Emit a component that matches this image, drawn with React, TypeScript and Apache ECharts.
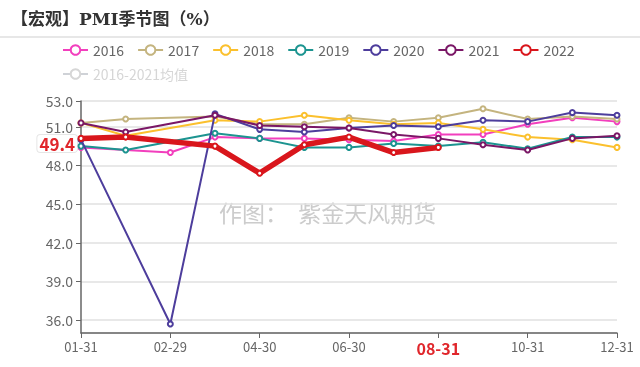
import React, { useEffect, useRef } from "react";
import * as echarts from "echarts";

const categories = ["01-31", "02-28", "02-29", "03-31", "04-30", "05-31", "06-30", "07-31", "08-31", "09-30", "10-31", "11-30", "12-31"];

const years = ["2016", "2017", "2018", "2019", "2020", "2021", "2022"];

const v2016 = [49.4, null, 49.0, 50.2, 50.1, 50.1, 50.0, 49.9, 50.4, 50.4, 51.2, 51.7, 51.4];
const v2017 = [51.3, 51.6, null, 51.8, 51.2, 51.2, 51.7, 51.4, 51.7, 52.4, 51.6, 51.8, 51.6];
const v2018 = [51.3, 50.3, null, 51.5, 51.4, 51.9, 51.5, 51.2, 51.3, 50.8, 50.2, 50.0, 49.4];
const v2019 = [49.5, 49.2, null, 50.5, 50.1, 49.4, 49.4, 49.7, 49.5, 49.8, 49.3, 50.2, 50.2];
const v2020 = [50.0, null, 35.7, 52.0, 50.8, 50.6, 50.9, 51.1, 51.0, 51.5, 51.4, 52.1, 51.9];
const v2021 = [51.3, 50.6, null, 51.9, 51.1, 51.0, 50.9, 50.4, 50.1, 49.6, 49.2, 50.1, 50.3];
const v2022 = [50.1, 50.2, null, 49.5, 47.4, 49.6, 50.2, 49.0, 49.4, null, null, null, null];
const vAvg = [50.5, 47.7, null, 51.3, 50.8, 50.7, 50.7, 50.6, 50.7, 50.8, 50.5, 51.0, 50.8];

const avgName = "2016-2021均值";
const yMin = 35;
const yMax = 53;
const highlightLabel = "08-31";
const titleText = "【宏观】PMI季节图（%）";
const watermark = "作图：  紫金天风期货";

const seriesValues = [v2016, v2017, v2018, v2019, v2020, v2021, v2022];
const colors = ["#f23fbd", "#c4b47f", "#fbc02d", "#1c9490", "#4d3d9c", "#7a1766", "#d9161c"];

const FONT = "'Noto Sans CJK SC', 'Noto Sans', sans-serif";

export default function App() {
  const ref = useRef<HTMLDivElement>(null);
  useEffect(() => {
    if (!ref.current) return;
    const chart = echarts.init(ref.current, undefined, { renderer: "svg" });
    const last2022 = [...v2022].reverse().find((v) => v != null) as number;

    const series: any[] = years.map((y, i) => {
      const is2022 = y === "2022";
      const s: any = {
        name: y,
        type: "line",
        data: seriesValues[i],
        connectNulls: true,
        symbol: "emptyCircle",
        symbolSize: 5,
        showSymbol: true,
        z: is2022 ? 10 : 2 + i,
        lineStyle: { width: is2022 ? 5.5 : 2, color: colors[i] },
        itemStyle: { color: colors[i], borderWidth: 1.5 },
      };
      if (is2022) {
        s.markLine = {
          silent: true,
          symbol: "none",
          lineStyle: { width: 0, color: "rgba(0,0,0,0)" },
          data: [{ yAxis: last2022 }],
          label: {
            show: true,
            position: "start",
            formatter: String(last2022),
            color: "#e0262b",
            fontWeight: "bold",
            fontSize: 17,
            fontFamily: FONT,
            backgroundColor: "#fff",
            borderColor: "#e6e6e6",
            borderWidth: 1,
            borderRadius: 3,
            padding: [0, 2, 0, 2],
            distance: 4,
            offset: [0, -4],
          },
        };
      }
      return s;
    });
    series.push({
      name: avgName,
      type: "line",
      data: vAvg,
      connectNulls: true,
      symbol: "emptyCircle",
      symbolSize: 5,
      lineStyle: { width: 2, color: "#bbbbbb", type: "dashed" },
      itemStyle: { color: "#bbbbbb" },
    });

    const selected: Record<string, boolean> = {};
    selected[avgName] = false;

    const legendBase = {
      left: 57,
      width: 560,
      itemWidth: 25,
      itemHeight: 12,
      itemGap: 13,
      selected,
      inactiveColor: "#d6d6d6",
      textStyle: { fontSize: 14, color: "#666", fontFamily: FONT },
    };

    chart.setOption({
      animation: false,
      textStyle: { fontFamily: FONT },
      title: {
        text: titleText,
        left: 6,
        top: 5,
        textStyle: { fontSize: 17, fontWeight: "bold", color: "#333", fontFamily: "'DejaVu Serif', 'Noto Sans CJK SC', serif" },
      },
      graphic: [
        { type: "line", shape: { x1: 0, y1: 37, x2: 640, y2: 37 }, style: { stroke: "#cfcfcf", lineWidth: 1 } },
        {
          type: "text",
          left: 219,
          top: 200,
          z: 0,
          style: { text: watermark, fontSize: 23, fill: "#cccccc", fontFamily: FONT },
        },
      ],
      legend: [
        { ...legendBase, top: 38, data: years },
        { ...legendBase, top: 62, data: [avgName] },
      ],
      grid: { left: 81, right: 23, top: 101, bottom: 34, containLabel: false },
      xAxis: {
        type: "category",
        data: categories,
        boundaryGap: false,
        axisLine: { lineStyle: { color: "#666", width: 1.5 } },
        axisTick: { interval: 1, lineStyle: { color: "#666" } },
        axisLabel: {
          interval: 1,
          color: "#666",
          fontSize: 13,
          margin: 7,
          formatter: (v: string) => (v === highlightLabel ? `{h|${v}}` : v),
          rich: { h: { color: "#e0262b", fontWeight: "bold", fontSize: 16, fontFamily: FONT } },
        },
        splitLine: { show: false },
      },
      yAxis: {
        type: "value",
        min: yMin,
        max: yMax,
        axisLine: { show: true, lineStyle: { color: "#666", width: 1.5 } },
        axisTick: { show: true, lineStyle: { color: "#666" } },
        axisLabel: { color: "#666", fontSize: 14, showMinLabel: false, formatter: (v: number) => v.toFixed(1) },
        splitLine: { lineStyle: { color: "#e0e0e0", width: 1.5 } },
      },
      series,
    });
    return () => chart.dispose();
  }, []);
  return <div ref={ref} style={{ position: "fixed", left: 0, top: 0, width: 640, height: 367 }} />;
}
